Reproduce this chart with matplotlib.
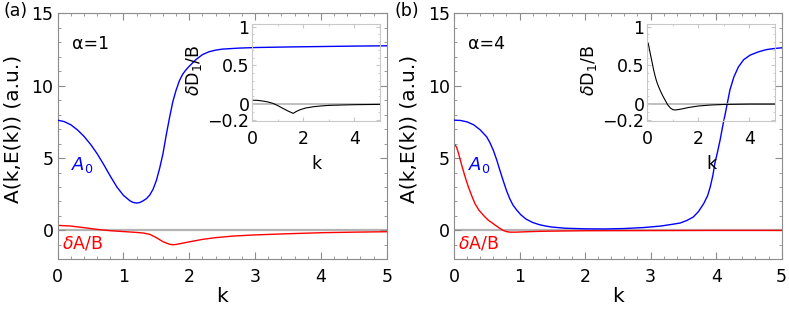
import matplotlib
matplotlib.use("Agg")
import matplotlib.pyplot as plt
from matplotlib.ticker import MultipleLocator

plt.rcParams['font.family'] = ['DejaVu Sans']
plt.rcParams['mathtext.fontset'] = 'custom'
plt.rcParams['mathtext.rm'] = 'DejaVu Sans'
plt.rcParams['mathtext.it'] = 'DejaVu Sans:italic'

FS = 12.5      # ticks / textos
FS_LAB = 14.5  # rótulos dos eixos

# ---- painel (a), alpha = 1 ----
k_a0_a = [0.0, 0.1, 0.2, 0.3, 0.4, 0.5, 0.6, 0.7, 0.8, 0.9, 1.0, 1.1, 1.15, 1.2, 1.25, 1.3,
          1.35, 1.4, 1.45, 1.5, 1.55, 1.6, 1.65, 1.7, 1.75, 1.8, 1.85, 1.9, 1.95, 2.0, 2.1,
          2.2, 2.3, 2.4, 2.5, 2.75, 3.0, 3.5, 4.0, 4.5, 5.0]
a0_a = [7.62, 7.52, 7.3, 6.95, 6.5, 5.95, 5.3, 4.55, 3.75, 3.0, 2.42, 2.04, 1.93, 1.89, 1.93, 2.05,
        2.2, 2.45, 2.85, 3.45, 4.3, 5.3, 6.6, 7.8, 8.9, 9.7, 10.35, 10.8, 11.1, 11.35, 11.8,
        12.15, 12.35, 12.46, 12.53, 12.6, 12.64, 12.68, 12.71, 12.74, 12.76]

k_da_a = [0.0, 0.2, 0.4, 0.6, 0.8, 1.0, 1.2, 1.3, 1.4, 1.5, 1.6, 1.7, 1.75, 1.8, 1.9, 2.0,
          2.2, 2.4, 2.67, 3.0, 3.5, 4.0, 4.5, 5.0]
da_a = [0.35, 0.3, 0.19, 0.07, -0.02, -0.08, -0.14, -0.18, -0.27, -0.5, -0.78, -0.96, -0.99,
        -0.97, -0.88, -0.79, -0.62, -0.5, -0.39, -0.31, -0.23, -0.16, -0.12, -0.09]

k_d1_a = [0.0, 0.2, 0.4, 0.6, 0.8, 1.0, 1.2, 1.4, 1.6, 1.7, 1.8, 1.9, 2.1, 2.4, 2.7, 3.0,
          3.5, 4.0, 5.0]
d1_a = [0.05, 0.048, 0.04, 0.028, 0.01, -0.02, -0.056, -0.09, -0.12, -0.1, -0.083, -0.07,
        -0.05, -0.034, -0.024, -0.017, -0.012, -0.008, -0.004]

# ---- painel (b), alpha = 4 ----
k_a0_b = [0.0, 0.1, 0.2, 0.3, 0.4, 0.5, 0.55, 0.6, 0.65, 0.7, 0.75, 0.8, 0.85, 0.9, 0.96,
          1.02, 1.1, 1.2, 1.3, 1.4, 1.5, 1.7, 2.0, 2.3, 2.6, 2.9, 3.15, 3.3, 3.45, 3.55,
          3.65, 3.73, 3.81, 3.87, 3.91, 3.95, 3.98, 4.02, 4.06, 4.1, 4.14, 4.18, 4.21, 4.27,
          4.34, 4.42, 4.52, 4.65, 4.77, 4.9, 5.0]
a0_b = [7.62, 7.6, 7.5, 7.3, 6.95, 6.46, 6.05, 5.54, 4.9, 4.16, 3.45, 2.77, 2.2, 1.75, 1.39,
        1.08, 0.78, 0.55, 0.4, 0.3, 0.23, 0.15, 0.11, 0.1, 0.13, 0.2, 0.3, 0.4, 0.51, 0.68,
        0.92, 1.3, 1.85, 2.4, 3.0, 3.8, 4.62, 5.4, 6.23, 7.2, 8.08, 9.0, 9.7, 10.6,
        11.3, 11.8, 12.12, 12.35, 12.5, 12.58, 12.62]

k_da_b = [0.0, 0.04, 0.07, 0.1, 0.14, 0.18, 0.22, 0.27, 0.32, 0.38, 0.45, 0.52, 0.6, 0.68,
          0.75, 0.8, 0.85, 0.95, 1.06, 1.25, 1.47, 2.0, 3.0, 4.0, 5.0]
da_b = [6.0, 5.75, 5.31, 4.8, 4.16, 3.55, 3.0, 2.4, 1.85, 1.4, 1.04, 0.72, 0.46, 0.2,
        0.0, -0.08, -0.12, -0.12, -0.1, -0.07, -0.05, -0.02, -0.01, 0.0, 0.0]

k_d1_b = [0.0, 0.04, 0.1, 0.15, 0.2, 0.25, 0.3, 0.35, 0.4, 0.5, 0.6, 0.7, 0.8, 0.9, 1.0,
          1.1, 1.2, 1.4, 1.6, 2.0, 2.5, 3.0, 4.0, 5.0]
d1_b = [0.8, 0.78, 0.68, 0.6, 0.52, 0.44, 0.37, 0.31, 0.26, 0.18, 0.11, 0.05, -0.01, -0.05,
        -0.072, -0.076, -0.072, -0.06, -0.045, -0.025, -0.012, -0.005, 0.0, 0.0]

paineis = [
    ("(a)", "α=1", k_a0_a, a0_a, k_da_a, da_a, k_d1_a, d1_a),
    ("(b)", "α=4", k_a0_b, a0_b, k_da_b, da_b, k_d1_b, d1_b),
]

COR_FRAME = '#8c8c8c'
COR_ZERO = '#b4b4b4'

fig = plt.figure(figsize=(7.89, 3.19), dpi=100)

pos_main = [[0.0731, 0.187, 0.417, 0.771], [0.5754, 0.187, 0.4153, 0.771]]
pos_ins = [[0.3198, 0.6216, 0.1618, 0.302], [0.8204, 0.6216, 0.1618, 0.302]]
pos_letra = [0.004, 0.5]

for i, (letra, alfa, ka, a0, kd, da, k1, d1) in enumerate(paineis):
    ax = fig.add_axes(pos_main[i])
    ax.axhline(0, color=COR_ZERO, lw=1.6, zorder=1)
    ax.plot(ka, a0, color='#0000ff', lw=1.0, zorder=3)
    ax.plot(kd, da, color='#ff0000', lw=1.0, zorder=2)
    ax.set_xlim(0, 5)
    ax.set_ylim(-2, 15)
    ax.xaxis.set_major_locator(MultipleLocator(1))
    ax.xaxis.set_minor_locator(MultipleLocator(0.2))
    ax.yaxis.set_major_locator(MultipleLocator(5))
    ax.yaxis.set_minor_locator(MultipleLocator(1))
    ax.tick_params(which='both', direction='in', top=True, right=True, color=COR_FRAME,
                   labelsize=FS)
    ax.tick_params(axis='x', pad=6)
    ax.tick_params(axis='y', pad=3)
    ax.tick_params(which='major', length=5)
    ax.tick_params(which='minor', length=2.5)
    for s in ax.spines.values():
        s.set_color(COR_FRAME)
    ax.set_xlabel("k", fontsize=FS_LAB, labelpad=1)
    ax.set_ylabel("A(k,E(k)) (a.u.)", fontsize=FS_LAB)
    ax.yaxis.set_label_coords(-0.108, 0.53)
    ax.text(0.22, 12.9, alfa, fontsize=FS, va='center', ha='left')
    ax.text(0.21, 4.2, r'$A_0$', color='#0000ff', fontsize=FS + 0.5, va='baseline', ha='left')
    ax.text(0.06, -1.28, r'$\delta$A/B', color='#ff0000', fontsize=FS, va='baseline', ha='left')
    fig.text(pos_letra[i], 0.995, letra, fontsize=FS, va='top', ha='left')

    # inset
    ins = fig.add_axes(pos_ins[i])
    ins.patch.set_alpha(0)
    ins.axhline(0, color=COR_ZERO, lw=1.2, zorder=1)
    ins.plot(k1, d1, color='black', lw=0.8, zorder=2)
    ins.set_xlim(0, 5)
    ins.set_ylim(-0.215, 1.03)
    ins.set_xticks([0, 2, 4])
    ins.xaxis.set_minor_locator(MultipleLocator(1))
    ins.set_yticks([-0.2, 0, 0.5, 1])
    ins.set_yticklabels(['−0.2', '0', '0.5', '1'])
    ins.yaxis.set_minor_locator(MultipleLocator(0.1))
    ins.tick_params(which='both', direction='in', top=True, right=True, color='#c8c8c8',
                    labelsize=FS)
    ins.tick_params(axis='x', pad=7)
    ins.tick_params(axis='y', pad=2)
    ins.tick_params(which='major', length=3)
    ins.tick_params(which='minor', length=1.5)
    for s in ins.spines.values():
        s.set_color('#c8c8c8')
    ins.set_xlabel("k", fontsize=FS)
    ins.xaxis.set_label_coords(0.5, -0.356)
    ins.set_ylabel(r'$\delta$D$_1$/B', fontsize=FS)
    ins.yaxis.set_label_coords(-0.378, 0.52)

fig.savefig("out.png", dpi=100)
